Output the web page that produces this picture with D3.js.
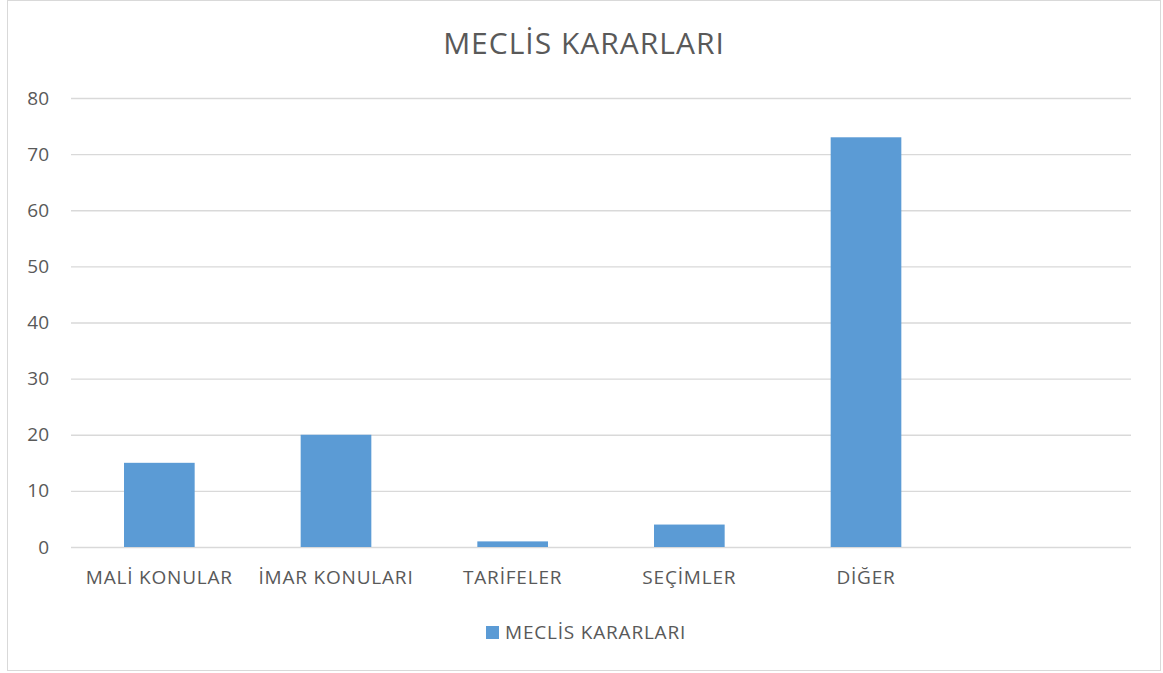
<!DOCTYPE html>
<html>
<head>
<meta charset="utf-8">
<script src="https://cdn.jsdelivr.net/npm/d3@7"></script>
<style>
  body { margin: 0; background: #fff; }
  text { font-family: 'Open Sans', sans-serif; fill: #595959; }
</style>
</head>
<body>
<svg id="chart" width="1163" height="673"></svg>
<script>
'use strict'

const title = 'MECLİS KARARLARI'
const seriesName = 'MECLİS KARARLARI'
// the last slot is an empty category in the source sheet
const categories = ['MALİ KONULAR', 'İMAR KONULARI', 'TARİFELER', 'SEÇİMLER', 'DİĞER', '']
const values = [15, 20, 1, 4, 73, null]
const yTicks = [0, 10, 20, 30, 40, 50, 60, 70, 80]

const barColor = '#5b9bd5'
const gridColor = '#d9d9d9'
const labelFont = "'Open Sans', sans-serif"

const svg = d3.select('#chart')

// outer chart frame
svg.append('rect')
    .attr('x', 7.5).attr('y', 0.5)
    .attr('width', 1153).attr('height', 670)
    .attr('fill', 'none')
    .attr('stroke', gridColor)

const plot = { left: 71, right: 1131, top: 98, bottom: 547 }

const x = d3.scaleBand()
    .domain(categories.map((d, i) => i))
    .range([plot.left, plot.right])
    .paddingInner(0.6)
    .paddingOuter(0.3)

const y = d3.scaleLinear()
    .domain([0, 80])
    .range([plot.bottom, plot.top])

svg.append('text')
    .attr('x', 584).attr('y', 54)
    .attr('text-anchor', 'middle')
    .style('font-size', '30px')
    .style('letter-spacing', '1px')
    .text(title)

// gridlines + y labels
const yAxis = svg.append('g')
    .attr('transform', 'translate(' + plot.left + ',0)')
    .call(d3.axisLeft(y).tickValues(yTicks).tickSize(-(plot.right - plot.left)).tickPadding(22))
yAxis.select('.domain').remove()
yAxis.selectAll('.tick line').attr('stroke', gridColor).attr('stroke-width', 1.3)
yAxis.selectAll('.tick text')
    .attr('fill', '#595959')
    .style('font-size', '19px')
    .style('font-family', labelFont)

// category labels
const xAxis = svg.append('g')
    .attr('transform', 'translate(0,' + plot.bottom + ')')
    .call(d3.axisBottom(x).tickFormat(i => categories[i]).tickSize(0).tickPadding(24))
xAxis.select('.domain').remove()
xAxis.selectAll('.tick text')
    .attr('fill', '#595959')
    .style('font-size', '19px')
    .style('letter-spacing', '0.8px')
    .style('font-family', labelFont)

svg.append('g')
    .selectAll('rect')
    .data(values.map((v, i) => ({ i: i, v: v })).filter(d => d.v != null))
    .enter()
    .append('rect')
    .attr('x', d => x(d.i))
    .attr('width', x.bandwidth())
    .attr('y', d => y(d.v))
    .attr('height', d => y(0) - y(d.v))
    .attr('fill', barColor)

// legend
const legend = svg.append('g').attr('transform', 'translate(486,626)')
legend.append('rect')
    .attr('width', 13).attr('height', 13)
    .attr('fill', barColor)
legend.append('text')
    .attr('x', 19).attr('y', 13)
    .style('font-size', '19px')
    .style('letter-spacing', '0.8px')
    .text(seriesName)
</script>
</body>
</html>
